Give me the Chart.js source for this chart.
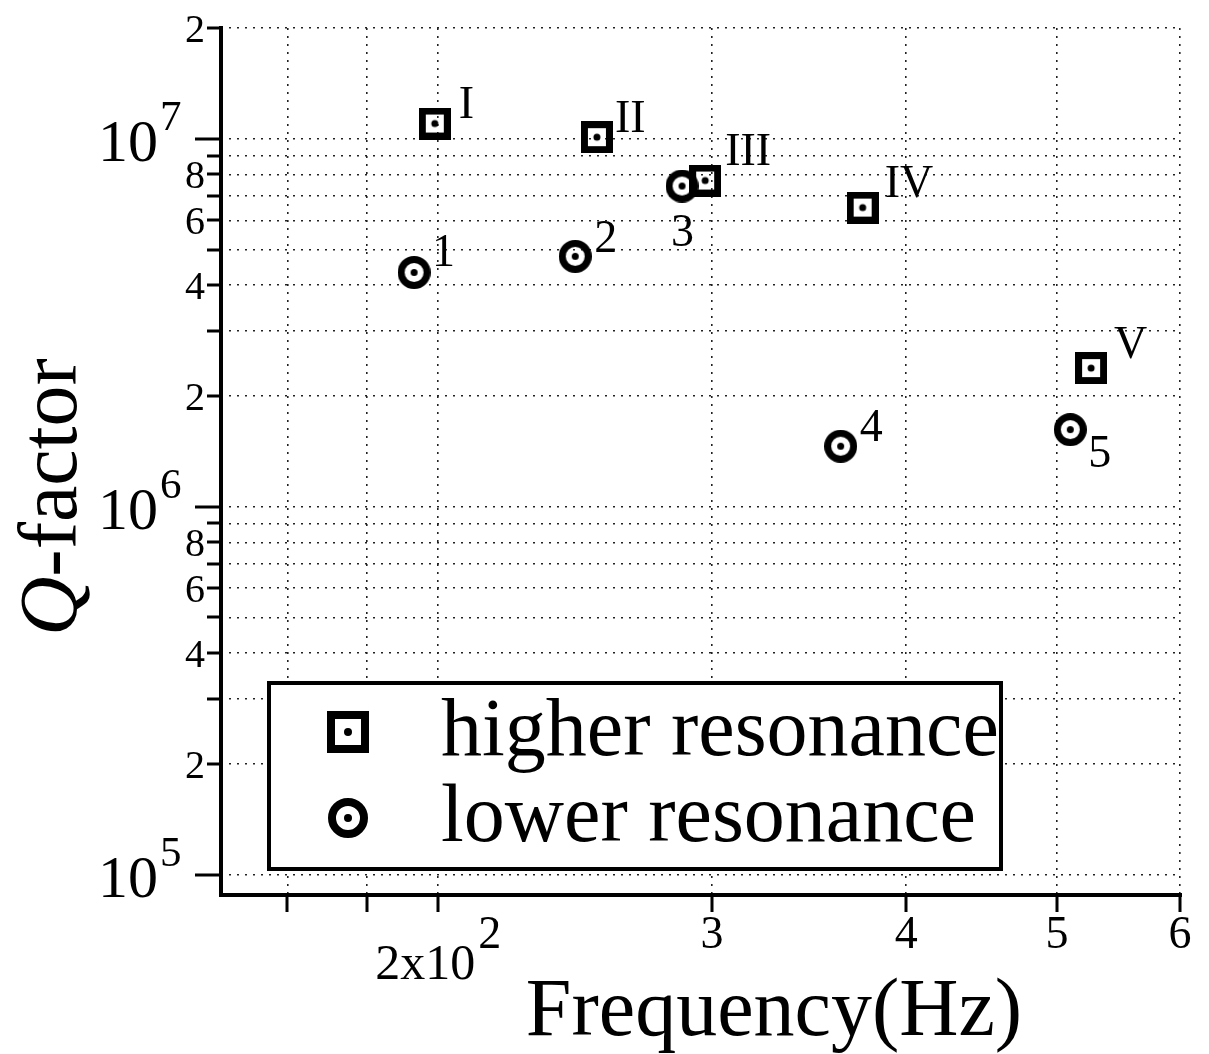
<!DOCTYPE html>
<html>
<head>
<meta charset="utf-8">
<title>Q-factor vs frequency</title>
<script src="https://cdn.jsdelivr.net/npm/chart.js@4.4.1/dist/chart.umd.min.js"></script>
<style>
  html, body { margin: 0; padding: 0; background: #fff; }
  canvas { display: block; }
</style>
</head>
<body>
<canvas id="qChart" width="1209" height="1054"></canvas>
<script>
// measured resonances (Hz, Q)
const freqHigher = [199, 253, 297, 375, 526];
const qHigher = [1.1e7, 1.01e7, 7.7e6, 6.5e6, 2.38e6];
const namesHigher = ['I', 'II', 'III', 'IV', 'V'];

const freqLower = [193, 245, 287, 363, 510];
const qLower = [4.33e6, 4.79e6, 7.44e6, 1.46e6, 1.62e6];
const namesLower = ['1', '2', '3', '4', '5'];

// axis ticks / grid
const xTickValues = [160, 180, 200, 300, 400, 500, 600];
const xLabelValues = [200, 300, 400, 500, 600];
const xLabelText = ['2x10^2', '3', '4', '5', '6'];

const yTickValues = [1e5, 2e5, 3e5, 4e5, 5e5, 6e5, 7e5, 8e5, 9e5,
                     1e6, 2e6, 3e6, 4e6, 5e6, 6e6, 7e6, 8e6, 9e6, 1e7, 2e7];
const yLabelValues = [1e5, 2e5, 4e5, 6e5, 8e5, 1e6, 2e6, 4e6, 6e6, 8e6, 1e7, 2e7];
const yLabelText = ['10^5', '2', '4', '6', '8', '10^6', '2', '4', '6', '8', '10^7', '2'];

// where each point's name sits relative to the marker [dx, dy to baseline]
const nameOffsetsHigher = [[24, -6], [18, -5], [20, -16], [22, -11], [23, -10]];
const nameOffsetsLower = [[18, -6], [19, -4], [-11, 60], [19, -5], [18, 37]];

const SERIF = "'Liberation Serif', 'Times New Roman', serif";

// square / circle marker with a dot in the middle
function makeMarker(kind, size, lw, dotR) {
  const c = document.createElement('canvas');
  c.width = size; c.height = size;
  const g = c.getContext('2d');
  g.strokeStyle = '#000';
  g.fillStyle = '#000';
  g.lineWidth = lw;
  if (kind === 'square') {
    g.strokeRect(lw / 2, lw / 2, size - lw, size - lw);
  } else {
    g.beginPath();
    g.arc(size / 2, size / 2, (size - lw) / 2, 0, Math.PI * 2);
    g.stroke();
  }
  g.beginPath();
  g.arc(size / 2, size / 2, dotR, 0, Math.PI * 2);
  g.fill();
  return c;
}

const squareMark = makeMarker('square', 32, 7, 3.5);
const circleMark = makeMarker('circle', 33, 7, 3.5);
const squareKey = makeMarker('square', 42, 8, 4);
const circleKey = makeMarker('circle', 40, 8, 4);

const isDecade = v => Math.abs(Math.log10(v) - Math.round(Math.log10(v))) < 1e-9;

// "10^7" style label: base + raised exponent
function drawPower(ctx, text, xRight, yTick) {
  const [base, exp] = text.split('^');
  ctx.textAlign = 'right';
  ctx.font = '60px ' + SERIF;
  ctx.fillText(base, xRight, yTick + 22);
  ctx.textAlign = 'left';
  ctx.font = '43px ' + SERIF;
  ctx.fillText(exp, xRight + 2, yTick - 9);
}

const pointNames = {
  id: 'pointNames',
  afterDatasetsDraw(chart) {
    const ctx = chart.ctx;
    ctx.save();
    ctx.fillStyle = '#000';
    ctx.font = '46px ' + SERIF;
    ctx.textAlign = 'left';
    ctx.textBaseline = 'alphabetic';
    [[namesHigher, nameOffsetsHigher], [namesLower, nameOffsetsLower]].forEach(([names, offs], di) => {
      chart.getDatasetMeta(di).data.forEach((pt, i) => {
        ctx.fillText(names[i], pt.x + offs[i][0], pt.y + offs[i][1]);
      });
    });
    ctx.restore();
  }
};

const boxedLegend = {
  id: 'boxedLegend',
  afterDatasetsDraw(chart) {
    const { ctx, chartArea: a } = chart;
    const left = a.left + 48, top = a.top + 655, w = 732, h = 186;
    ctx.save();
    ctx.fillStyle = '#fff';
    ctx.fillRect(left, top, w, h);
    ctx.strokeStyle = '#000';
    ctx.lineWidth = 4;
    ctx.strokeRect(left, top, w, h);
    ctx.fillStyle = '#000';
    ctx.font = '82px ' + SERIF;
    ctx.textAlign = 'left';
    const rows = [
      [squareKey, chart.data.datasets[0].label, 49],
      [circleKey, chart.data.datasets[1].label, 135]
    ];
    rows.forEach(([img, text, cy]) => {
      ctx.drawImage(img, left + 79 - img.width / 2, top + cy - img.height / 2);
      ctx.fillText(text, left + 172, top + cy + 23);
    });
    ctx.restore();
  }
};

const paperAxes = {
  id: 'paperAxes',
  afterDraw(chart) {
    const { ctx, chartArea: a, scales: { x, y } } = chart;
    ctx.save();
    ctx.strokeStyle = '#000';
    ctx.fillStyle = '#000';

    // axis lines
    ctx.lineWidth = 4;
    ctx.beginPath();
    ctx.moveTo(a.left, a.top - 2);
    ctx.lineTo(a.left, a.bottom + 2);
    ctx.moveTo(a.left - 2, a.bottom);
    ctx.lineTo(a.right + 2, a.bottom);
    ctx.stroke();

    // tick marks
    ctx.lineWidth = 3;
    ctx.beginPath();
    yTickValues.forEach(v => {
      const py = Math.round(y.getPixelForValue(v));
      ctx.moveTo(a.left - (isDecade(v) ? 26 : 14), py);
      ctx.lineTo(a.left, py);
    });
    xTickValues.forEach(v => {
      const px = Math.round(x.getPixelForValue(v));
      ctx.moveTo(px, a.bottom);
      ctx.lineTo(px, a.bottom + 17);
    });
    ctx.stroke();

    // y tick labels
    yLabelValues.forEach((v, i) => {
      const py = y.getPixelForValue(v);
      const t = yLabelText[i];
      if (t.includes('^')) {
        drawPower(ctx, t, a.left - 63, py);
      } else {
        ctx.textAlign = 'right';
        ctx.font = '40px ' + SERIF;
        ctx.fillText(t, a.left - 16, py + 14);
      }
    });

    // x tick labels
    xLabelValues.forEach((v, i) => {
      const px = x.getPixelForValue(v);
      const t = xLabelText[i];
      if (t.includes('^')) {
        const [base, exp] = t.split('^');
        ctx.font = '50px ' + SERIF;
        const wb = ctx.measureText(base).width;
        ctx.font = '46px ' + SERIF;
        const we = ctx.measureText(exp).width;
        const start = px - (wb + 3 + we) / 2;
        ctx.textAlign = 'left';
        ctx.font = '50px ' + SERIF;
        ctx.fillText(base, start, a.bottom + 84);
        ctx.font = '46px ' + SERIF;
        ctx.fillText(exp, start + wb + 3, a.bottom + 53);
      } else {
        ctx.textAlign = 'center';
        ctx.font = '46px ' + SERIF;
        ctx.fillText(t, px, a.bottom + 53);
      }
    });

    // axis titles
    ctx.textAlign = 'center';
    ctx.font = '82px ' + SERIF;
    ctx.fillText('Frequency(Hz)', a.left + 553, a.bottom + 140);

    ctx.translate(a.left - 145, a.top + 469);
    ctx.rotate(-Math.PI / 2);
    ctx.textAlign = 'left';
    ctx.font = 'italic 82px ' + SERIF;
    const wq = ctx.measureText('Q').width;
    ctx.font = '82px ' + SERIF;
    const wr = ctx.measureText('-factor').width;
    const sx = -(wq + wr) / 2;
    ctx.font = 'italic 82px ' + SERIF;
    ctx.fillText('Q', sx, 0);
    ctx.font = '82px ' + SERIF;
    ctx.fillText('-factor', sx + wq, 0);
    ctx.restore();
  }
};

const dottedGrid = {
  color: '#222',
  lineWidth: 1.6,
  drawTicks: false
};

new Chart(document.getElementById('qChart'), {
  type: 'scatter',
  data: {
    datasets: [
      {
        label: 'higher resonance',
        data: freqHigher.map((f, i) => ({ x: f, y: qHigher[i] })),
        pointStyle: squareMark,
        pointRadius: 16
      },
      {
        label: 'lower resonance',
        data: freqLower.map((f, i) => ({ x: f, y: qLower[i] })),
        pointStyle: circleMark,
        pointRadius: 16
      }
    ]
  },
  options: {
    responsive: false,
    animation: false,
    events: [],
    layout: { padding: { left: 221, right: 29, top: 28, bottom: 159 } },
    scales: {
      x: {
        type: 'logarithmic',
        bounds: 'data',
        min: 145,
        max: 600,
        afterBuildTicks: s => { s.ticks = xTickValues.map(v => ({ value: v })); },
        afterFit: s => { s.height = 0; },
        ticks: { display: false },
        grid: dottedGrid,
        border: { display: false, dash: [2, 6] }
      },
      y: {
        type: 'logarithmic',
        bounds: 'data',
        min: 8.8e4,
        max: 2e7,
        afterBuildTicks: s => { s.ticks = yTickValues.map(v => ({ value: v })); },
        afterFit: s => { s.width = 0; },
        ticks: { display: false },
        grid: dottedGrid,
        border: { display: false, dash: [2, 6] }
      }
    },
    plugins: {
      legend: { display: false },
      tooltip: { enabled: false }
    }
  },
  plugins: [boxedLegend, pointNames, paperAxes]
});
</script>
</body>
</html>
